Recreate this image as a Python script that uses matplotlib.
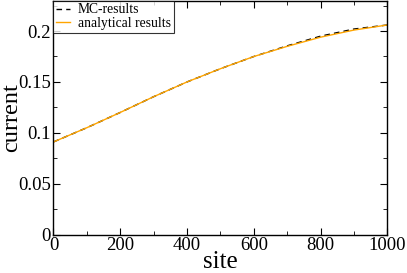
import numpy as np
import matplotlib.pyplot as plt
from matplotlib.ticker import MultipleLocator

plt.rcParams['font.family'] = ['Liberation Serif', 'DejaVu Serif']

# sites and currents
site = [0, 100, 200, 300, 400, 500, 600, 700, 800, 900, 1000]
mc_current = [0.091, 0.105, 0.120, 0.1355, 0.150, 0.163, 0.175, 0.1855, 0.1950, 0.2020, 0.206]
an_current = [0.091, 0.105, 0.120, 0.1355, 0.150, 0.163, 0.175, 0.185, 0.194, 0.201, 0.206]

fig = plt.figure(figsize=(4.07, 2.73), dpi=100)
ax = fig.add_axes([0.1314, 0.141, 0.8206, 0.857])

ax.plot(site, mc_current, color='black', lw=1.0, ls=(0, (4, 3)), label='MC-results')
ax.plot(site, an_current, color='#ffa500', lw=1.0, label='analytical results')

ax.set_xlim(0, 1000)
ax.set_ylim(0, 0.23)
ax.xaxis.set_major_locator(MultipleLocator(200))
ax.xaxis.set_minor_locator(MultipleLocator(100))
ax.yaxis.set_major_locator(MultipleLocator(0.05))
ax.yaxis.set_minor_locator(MultipleLocator(0.025))
ax.set_yticks([0, 0.05, 0.1, 0.15, 0.2])
ax.set_yticklabels(['0', '0.05', '0.1', '0.15', '0.2'])
ax.tick_params(which='both', direction='in', top=True, right=True, labelsize=13.5, pad=2)
ax.tick_params(which='major', length=5)
ax.tick_params(which='minor', length=3)
for s in ax.spines.values():
    s.set_linewidth(1.0)

ax.set_xlabel('site', fontsize=18)
ax.set_ylabel('current', fontsize=17.5)
ax.xaxis.set_label_coords(0.5, -0.072)
ax.yaxis.set_label_coords(-0.094, 0.5)

leg = ax.legend(loc='upper left', fontsize=9.8, frameon=True, fancybox=False,
                borderaxespad=0, handlelength=1.0, handletextpad=0.6,
                borderpad=0.2, labelspacing=0.05)
leg.get_frame().set_edgecolor('black')
leg.get_frame().set_linewidth(0.8)

fig.savefig('out.png', dpi=100)
